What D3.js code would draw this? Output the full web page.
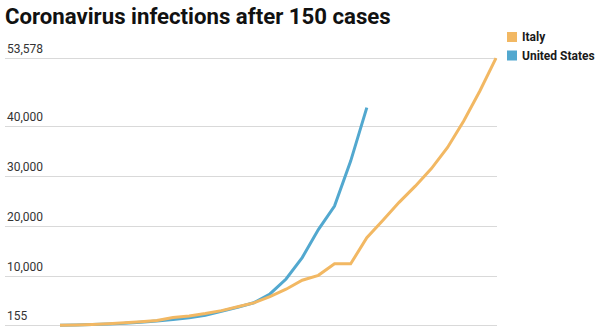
<!DOCTYPE html>
<html>
<head>
<meta charset="utf-8">
<script src="https://cdn.jsdelivr.net/npm/d3@7"></script>
<style>
  html, body { margin: 0; padding: 0; background: #fff; }
  svg { display: block; }
  text { font-family: Roboto, "Noto Sans", sans-serif; }
</style>
</head>
<body>
<svg id="chart" width="606" height="333"></svg>
<script>
// Cumulative confirmed cases, counted from the first day with ~150 cases
const days = d3.range(0, 28);
const italy = [155, 229, 322, 453, 655, 888, 1128, 1694, 2036, 2502, 3089, 3858,
  4636, 5883, 7375, 9172, 10149, 12462, 12462, 17660, 21157, 24747, 27980,
  31506, 35713, 41035, 47021, 53578];
const unitedStates = [159, 233, 338, 433, 554, 754, 1025, 1312, 1663, 2174, 2951,
  3774, 4661, 6427, 9415, 13700, 19300, 24000, 33000, 43700];
const tickValues = [155, 10000, 20000, 30000, 40000, 53578];
const seriesNames = ["Italy", "United States"];
const seriesColors = ["#f2b863", "#52a8cf"];

const svg = d3.select("#chart");

const x = d3.scaleLinear().domain([0, 27]).range([60, 496]);
const y = d3.scaleLinear().domain([155, 53578]).range([325.3, 58.2]);

// Title
svg.append("text")
  .attr("x", 5).attr("y", 23.5)
  .attr("font-size", 22.2).attr("font-weight", 700)
  .attr("fill", "#111")
  .text("Coronavirus infections after 150 cases");

// Horizontal gridlines with labels sitting on top of them
const yAxis = d3.axisRight(y)
  .tickValues(tickValues)
  .tickSize(492)
  .tickFormat(d3.format(","));

const gAxis = svg.append("g")
  .attr("transform", "translate(5,0)")
  .call(yAxis);
gAxis.select(".domain").remove();
gAxis.selectAll(".tick line")
  .attr("stroke", "#d9d9d9").attr("stroke-width", 1)
  .attr("shape-rendering", "crispEdges");
gAxis.selectAll(".tick text")
  .attr("x", 2).attr("dy", -5.5)
  .attr("text-anchor", "start")
  .attr("font-size", 12)
  .attr("fill", "#333");

// Lines
const line = d3.line()
  .x((d, i) => x(days[i]))
  .y(d => y(d));

[[unitedStates, 1], [italy, 0]].forEach(([vals, k]) => {
  svg.append("path")
    .datum(vals)
    .attr("d", line)
    .attr("fill", "none")
    .attr("stroke", seriesColors[k])
    .attr("stroke-width", 3)
    .attr("stroke-linejoin", "miter")
    .attr("stroke-linecap", "butt");
});

// Legend
const legend = svg.append("g").attr("transform", "translate(507,32)");
seriesNames.forEach((name, i) => {
  const g = legend.append("g").attr("transform", `translate(0,${i * 18.5})`);
  g.append("rect").attr("width", 10).attr("height", 10).attr("fill", seriesColors[i]);
  g.append("text")
    .attr("x", 15).attr("y", 9)
    .attr("font-size", 12).attr("font-weight", 700)
    .attr("fill", "#1a1a1a")
    .text(name);
});
</script>
</body>
</html>
